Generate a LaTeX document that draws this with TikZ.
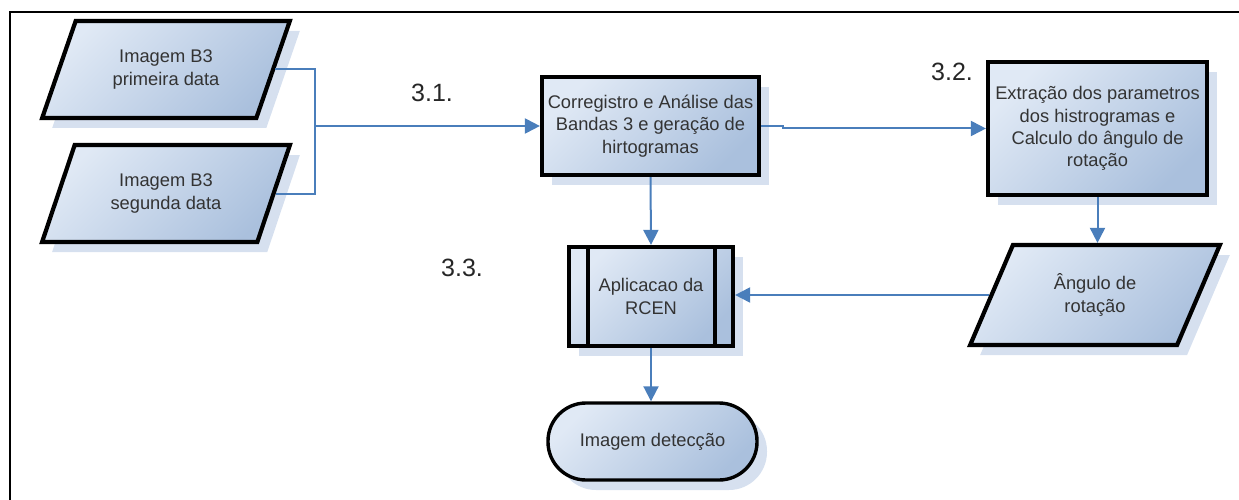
\documentclass[tikz,border=0pt]{standalone}
\usepackage{fontspec}
\setmainfont{Liberation Sans}
\usetikzlibrary{shapes.geometric,shadows,arrows.meta,calc}
\definecolor{gtop}{HTML}{E0E9F5}
\definecolor{gbot}{HTML}{AAC0DD}
\definecolor{shd}{HTML}{D6E0EF}
\definecolor{lnblue}{HTML}{4A7EBB}
\definecolor{txt}{HTML}{333333}
\begin{document}
\begin{tikzpicture}[x=1pt,y=-1pt,
 blk/.style={draw=black, line width=4.2pt, top color=gtop, bottom color=gbot, shading angle=45,
   drop shadow={shadow xshift=10pt, shadow yshift=-10pt, fill=shd, opacity=1},
   text=txt, align=center, font=\fontsize{18.3}{22.3}\selectfont, inner sep=0pt},
 procbox/.style={blk, rectangle},
 iobox/.style={blk, trapezium, trapezium left angle=63, trapezium right angle=117, trapezium stretches=true},
 termbox/.style={blk, rectangle, rounded corners=38pt, line width=3.4pt},
 conn/.style={draw=lnblue, line width=2pt, -{Triangle[length=15pt,width=15pt]}},
 plain/.style={draw=lnblue, line width=2pt},
 lbl/.style={font=\fontsize{25}{30}\selectfont, text=black!85}
]
\useasboundingbox (0,0) rectangle (1239,500);
\draw[line width=2.5pt] (10,500) -- (10,12) -- (1239,12);

\node[iobox, minimum width=248pt, minimum height=97pt] (p1) at (166,69.5) {Imagem B3\\primeira data};
\node[iobox, minimum width=248pt, minimum height=97pt] (p2) at (166,193.5) {Imagem B3\\segunda data};
\node[procbox, minimum width=217pt, minimum height=98pt] (b1) at (650.5,126) {Corregistro e Análise das\\Bandas 3 e geração de\\hirtogramas};
\node[procbox, minimum width=219pt, minimum height=133pt] (b2) at (1097.5,128.5) {Extração dos parametros\\dos histrogramas e\\Calculo do ângulo de\\rotação};
\node[iobox, minimum width=250pt, minimum height=100pt] (p3) at (1095,295) {Ângulo de\\rotação};
\node[procbox, minimum width=164pt, minimum height=99pt] (b3) at (651,296.5) {Aplicacao da\\RCEN};
\node[termbox, minimum width=209pt, minimum height=77pt] (t1) at (652.5,441.5) {Imagem detecção};

\draw[line width=4.2pt] ($(b3.north west)+(21,2.1)$) -- ($(b3.south west)+(21,-2.1)$);
\draw[line width=4.2pt] ($(b3.north east)+(-20,2.1)$) -- ($(b3.south east)+(-20,-2.1)$);

\node[lbl] (l31) at (432,93) {3.1.};
\node[lbl] (l32) at (952,72) {3.2.};
\node[lbl] (l33) at (462,268) {3.3.};

\coordinate (j) at (315,126);
\coordinate (k) at (783,126);
\draw[plain] (p1.east) -| (j);
\draw[plain] (p2.east) -| (j);
\draw[conn] (j) -- (b1.west);
\draw[conn] (b1.east) -- (k) |- (b2.west);
\draw[conn] (b2.south) -- (b2.south |- p3.north);
\draw[conn] (p3.west) -- (p3.west -| b3.east);
\draw[conn] (b1.south) -- (b3.north);
\draw[conn] (b3.south) -- (b3.south |- t1.north);
\end{tikzpicture}
\end{document}
